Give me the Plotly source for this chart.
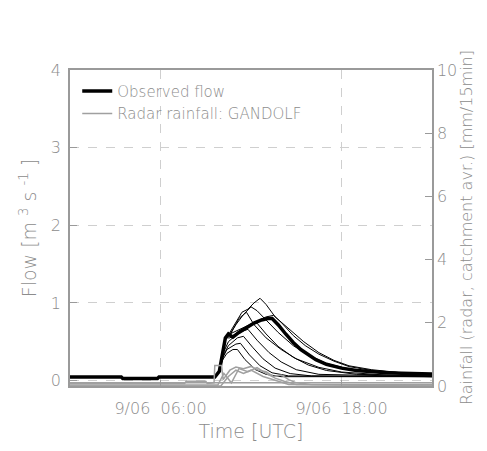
import plotly.graph_objects as go

_AXIS = "#9a9a9a"
_TEXT = "#8c8c8c"
_GRID = "#cfcfcf"
_FONT = "DejaVu Sans"

# observed flow [m3/s], time in hours of 9/06
obs_t = [0, 3.4, 3.5, 5.8, 5.9, 9.6, 9.9, 10.1, 10.3, 10.5, 10.8, 11.2, 11.7, 12.2,
         12.7, 13.1, 13.4, 13.8, 14.3, 14.8, 15.3, 15.8, 16.3, 17.0, 18.0, 19.0,
         20.0, 21.0, 22.0, 23.0, 24.0]
obs_q = [0.046, 0.046, 0.027, 0.027, 0.046, 0.046, 0.12, 0.35, 0.55, 0.6, 0.56, 0.62,
         0.68, 0.74, 0.78, 0.8, 0.8, 0.72, 0.6, 0.49, 0.4, 0.33, 0.27, 0.21, 0.16,
         0.13, 0.11, 0.1, 0.095, 0.09, 0.085]

# simulated flows driven by radar rainfall
sim_t = [
    [9.6, 9.9, 10.1, 10.3, 10.6, 11.0, 11.4, 11.8, 12.2, 12.6, 13.0, 13.6, 14.2, 14.8,
     15.5, 16.5, 17.5, 18.5, 20.0, 22.0, 24.0],
    [9.6, 9.9, 10.1, 10.3, 10.6, 11.0, 11.5, 12.0, 12.4, 13.0, 13.8, 14.8, 15.8, 17.0,
     18.5, 20.5, 24.0],
    [9.6, 9.9, 10.1, 10.3, 10.6, 11.2, 11.7, 12.2, 13.0, 14.0, 15.0, 16.5, 18.0, 21.0, 24.0],
    [9.6, 9.9, 10.1, 10.3, 10.6, 11.5, 12.3, 13.0, 13.5, 14.0, 14.8, 15.6, 16.5, 17.5,
     18.5, 20.0, 22.0, 24.0],
    [9.6, 9.9, 10.1, 10.3, 10.6, 11.3, 12.0, 12.4, 13.0, 13.8, 14.8, 15.8, 17.0, 19.0, 24.0],
    [9.6, 9.9, 10.1, 10.5, 11.2, 11.8, 12.4, 13.2, 14.0, 15.0, 16.5, 24.0],
    [9.6, 9.9, 10.1, 10.5, 11.1, 11.5, 12.1, 12.8, 13.6, 14.6, 16.0, 24.0],
    [9.6, 9.9, 10.1, 10.4, 11.0, 11.3, 11.9, 12.6, 13.4, 14.5, 24.0],
    [9.6, 9.9, 10.1, 10.4, 10.8, 11.1, 11.6, 12.3, 13.0, 14.0, 24.0],
]
sim_q = [
    [0.046, 0.12, 0.35, 0.55, 0.62, 0.75, 0.88, 0.92, 1.0, 1.06, 0.98, 0.82, 0.72, 0.62,
     0.5, 0.36, 0.26, 0.19, 0.14, 0.1, 0.08],
    [0.046, 0.12, 0.35, 0.55, 0.6, 0.72, 0.85, 0.95, 0.9, 0.78, 0.62, 0.45, 0.33, 0.22,
     0.15, 0.1, 0.07],
    [0.046, 0.12, 0.35, 0.55, 0.58, 0.8, 0.88, 0.72, 0.55, 0.4, 0.28, 0.17, 0.11, 0.07, 0.06],
    [0.046, 0.12, 0.35, 0.55, 0.6, 0.68, 0.76, 0.82, 0.84, 0.75, 0.58, 0.45, 0.34, 0.25,
     0.18, 0.13, 0.1, 0.09],
    [0.046, 0.12, 0.35, 0.55, 0.55, 0.65, 0.72, 0.74, 0.6, 0.44, 0.3, 0.2, 0.13, 0.08, 0.06],
    [0.046, 0.12, 0.33, 0.5, 0.62, 0.66, 0.52, 0.36, 0.24, 0.14, 0.08, 0.05],
    [0.046, 0.12, 0.3, 0.45, 0.55, 0.57, 0.43, 0.28, 0.16, 0.09, 0.06, 0.05],
    [0.046, 0.12, 0.28, 0.4, 0.47, 0.48, 0.33, 0.19, 0.1, 0.06, 0.05],
    [0.046, 0.12, 0.26, 0.35, 0.4, 0.4, 0.27, 0.14, 0.08, 0.05, 0.05],
]

# radar rainfall (GANDOLF), catchment average [mm/15min]
rain_t = [
    [0, 7.6, 7.7, 9.0, 9.1, 9.55, 9.6, 10.05, 10.15, 10.6, 11.0, 11.5, 12.0, 12.5, 13.0,
     13.5, 14.0, 14.5, 15.0, 16.0, 24.0],
    [0, 9.8, 10.2, 10.7, 11.2, 11.8, 12.4, 13.0, 13.6, 14.2, 15.0, 24.0],
    [0, 10.0, 10.5, 11.0, 11.5, 12.0, 12.8, 13.5, 14.5, 24.0],
    [0, 24.0],
]
rain_v = [
    [0.08, 0.08, 0.15, 0.15, 0.08, 0.1, 0.65, 0.65, 0.2, 0.5, 0.6, 0.55, 0.62, 0.5, 0.45,
     0.3, 0.35, 0.2, 0.1, 0.05, 0.05],
    [0.03, 0.03, 0.4, 0.1, 0.55, 0.45, 0.58, 0.4, 0.25, 0.15, 0.05, 0.03],
    [0.0, 0.0, 0.3, 0.5, 0.4, 0.5, 0.3, 0.2, 0.05, 0.0],
    [0.1, 0.1],
]

x_ticks = [6, 18]
x_ticktext = ["9/06  06:00", "9/06  18:00"]

fig = go.Figure()

for i, (t, v) in enumerate(zip(rain_t, rain_v)):
    fig.add_trace(go.Scatter(
        x=t, y=v, mode="lines", yaxis="y2",
        name="Radar rainfall: GANDOLF", showlegend=(i == 0), legendrank=2,
        line=dict(color="#a0a0a0", width=1.5),
    ))

for t, q in zip(sim_t, sim_q):
    fig.add_trace(go.Scatter(
        x=t, y=q, mode="lines", showlegend=False,
        line=dict(color="black", width=1),
    ))

fig.add_trace(go.Scatter(
    x=obs_t, y=obs_q, mode="lines", name="Observed flow", legendrank=1,
    line=dict(color="black", width=3.5),
))

# page body has an 8px margin on every side; keep the figure inside the window
fig.update_layout(
    width=471,
    height=435,
    margin=dict(l=62, r=47, t=62, b=57),
    paper_bgcolor="white",
    plot_bgcolor="white",
    font=dict(family=_FONT, color=_TEXT, size=16, weight=200),
    legend=dict(
        x=0.02, y=0.985, xanchor="left", yanchor="top",
        bgcolor="rgba(0,0,0,0)", font=dict(size=15, color=_TEXT, weight=200),
        itemwidth=30, tracegroupgap=0,
    ),
    xaxis=dict(
        range=[0, 24],
        tickvals=x_ticks, ticktext=x_ticktext,
        ticks="inside", ticklen=6, tickcolor=_AXIS,
        ticklabelstandoff=7,
        showgrid=True, gridcolor=_GRID, griddash="dash", gridwidth=1,
        showline=True, linecolor=_AXIS, linewidth=1.5, mirror=True,
        zeroline=False, automargin=False,
        title=dict(text="Time [UTC]", standoff=8),
    ),
    yaxis=dict(
        range=[-0.07, 4],
        tickvals=[0, 1, 2, 3, 4],
        ticks="inside", ticklen=7, tickcolor=_AXIS,
        ticklabelstandoff=4,
        showgrid=True, gridcolor=_GRID, griddash="dash", gridwidth=1,
        showline=True, linecolor=_AXIS, linewidth=1.5,
        zeroline=False, automargin=False,
        title=dict(text="Flow [m <sup>3</sup> s <sup>-1</sup> ]", standoff=9),
    ),
    yaxis2=dict(
        range=[0, 10],
        tickvals=[0, 2, 4, 6, 8, 10],
        overlaying="y", side="right",
        ticks="inside", ticklen=7, tickcolor=_AXIS,
        showgrid=False, zeroline=False, automargin=False,
        showline=True, linecolor=_AXIS, linewidth=1.5,
    ),
    annotations=[
        dict(
            text="Rainfall (radar, catchment avr.) [mm/15min]",
            xref="paper", yref="paper", x=1.094, y=0.5,
            xanchor="center", yanchor="middle", textangle=-90,
            showarrow=False, font=dict(size=16, color=_TEXT, weight=200),
        )
    ],
)

fig.write_html("out.html")
